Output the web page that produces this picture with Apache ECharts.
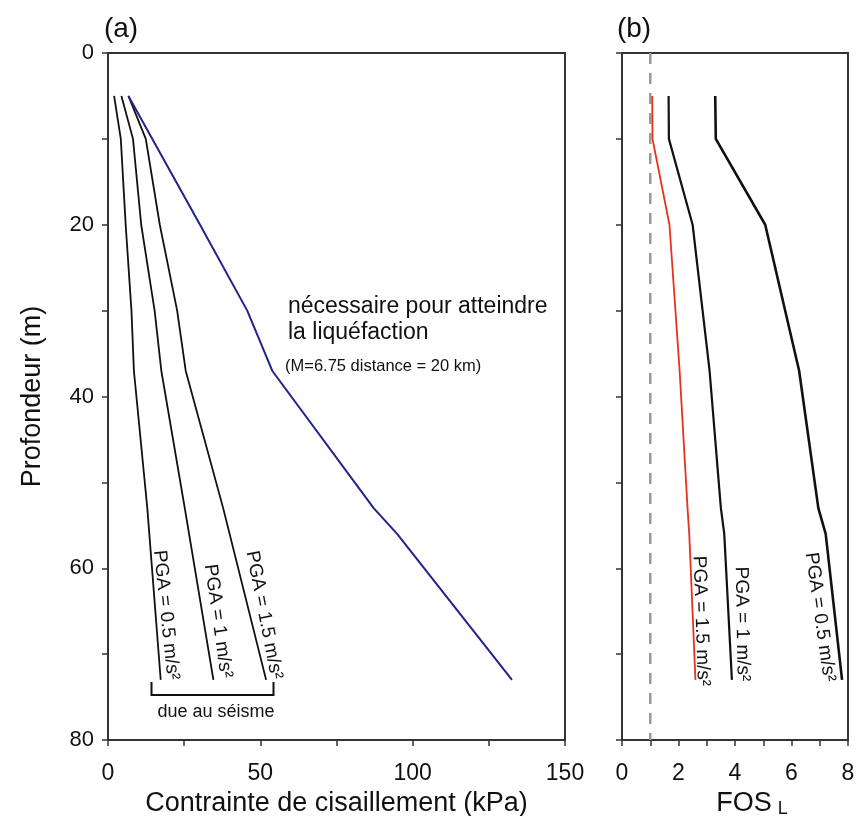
<!DOCTYPE html>
<html>
<head>
<meta charset="utf-8">
<script src="https://cdn.jsdelivr.net/npm/echarts@6/dist/echarts.min.js"></script>
<style>
html,body{margin:0;padding:0;background:#fff;}
#c{width:857px;height:816px;}
</style>
</head>
<body>
<div id="c"></div>
<script>
// ---- data ----
const depthA = [5, 10, 20, 30, 37, 53, 73];
const pga05A = [2.0, 4.2, 5.8, 7.7, 8.5, 12.9, 17.3];
const pga10A = [4.4, 8.2, 10.9, 15.3, 17.5, 25.2, 34.6];
const pga15A = [6.7, 12.4, 17.0, 22.7, 25.5, 37.8, 51.9];
const depthLiq = [5, 20, 30, 37, 53, 56, 73];
const liqA = [6.7, 30.2, 45.7, 53.9, 87.2, 94.9, 132.6];
const depthB = [5, 10, 20, 37, 53, 56, 73];
const fos15 = [1.07, 1.08, 1.68, 2.04, 2.32, 2.38, 2.6];
const fos10 = [1.65, 1.66, 2.5, 3.1, 3.5, 3.62, 3.89];
const fos05 = [3.3, 3.32, 5.07, 6.27, 6.95, 7.21, 7.79];
const fosLimit = [1, 1];
const fosLimitDepth = [0, 80];
const xTicksA = [0, 50, 100, 150];
const xTicksB = [0, 2, 4, 6, 8];
const yTicks = [0, 20, 40, 60, 80];

const FONT = 'Liberation Sans, Arial, sans-serif';
const pair = (xs, ys) => xs.map((v, i) => [v, ys[i]]);

const chart = echarts.init(document.getElementById('c'), null, {renderer: 'canvas'});

const axisCommon = {
  axisLine: {show: true, onZero: false, lineStyle: {color: '#333', width: 2}},
  axisTick: {show: true, inside: false, length: 6, lineStyle: {color: '#333', width: 1.5}},
  splitLine: {show: false}
};

function xAxisDef(idx, min, max, interval, ticks, name, extra) {
  return Object.assign({
    type: 'value', gridIndex: idx, min: min, max: max, interval: interval,
    position: 'bottom',
    axisLabel: {
      margin: 22, fontSize: 23, fontFamily: FONT, color: '#111',
      formatter: v => ticks.indexOf(v) >= 0 ? String(v) : ''
    },
    name: name, nameLocation: 'middle', nameGap: 45,
    nameTextStyle: {fontSize: 27, fontFamily: FONT, color: '#111'}
  }, axisCommon, extra || {});
}

const option = {
  animation: false,
  backgroundColor: '#fff',
  grid: [
    {left: 108, top: 53, width: 457, height: 687, containLabel: false, outerBoundsMode: 'none',
      show: true, borderColor: '#333', borderWidth: 2, backgroundColor: 'transparent'},
    {left: 622, top: 53, width: 226, height: 687, containLabel: false, outerBoundsMode: 'none',
      show: true, borderColor: '#333', borderWidth: 2, backgroundColor: 'transparent'}
  ],
  xAxis: [
    xAxisDef(0, 0, 150, 25, xTicksA, 'Contrainte de cisaillement (kPa)'),
    xAxisDef(1, 0, 8, 1, xTicksB, '{a|FOS}{b|L}', {
      nameGap: 41,
      nameTextStyle: {
        fontFamily: FONT, color: '#111', padding: [0, 0, 0, 34],
        rich: {
          a: {fontSize: 27, fontFamily: FONT, color: '#111'},
          b: {fontSize: 18, fontFamily: FONT, color: '#111', padding: [12, 0, 0, 6]}
        }
      }
    })
  ],
  yAxis: [
    Object.assign({
      type: 'value', gridIndex: 0, min: 0, max: 80, interval: 10, inverse: true,
      axisLabel: {margin: 14, fontSize: 22, fontFamily: FONT, color: '#111',
        formatter: v => yTicks.indexOf(v) >= 0 ? String(v) : ''},
      name: 'Profondeur (m)', nameLocation: 'middle', nameGap: 62,
      nameTextStyle: {fontSize: 27, fontFamily: FONT, color: '#111'}
    }, axisCommon),
    Object.assign({
      type: 'value', gridIndex: 1, min: 0, max: 80, interval: 10, inverse: true,
      axisLabel: {show: false}
    }, axisCommon)
  ],
  series: [
    {type: 'line', xAxisIndex: 0, yAxisIndex: 0, data: pair(pga05A, depthA), showSymbol: false,
      lineStyle: {color: '#111', width: 1.8}},
    {type: 'line', xAxisIndex: 0, yAxisIndex: 0, data: pair(pga10A, depthA), showSymbol: false,
      lineStyle: {color: '#111', width: 1.8}},
    {type: 'line', xAxisIndex: 0, yAxisIndex: 0, data: pair(pga15A, depthA), showSymbol: false,
      lineStyle: {color: '#111', width: 1.8}},
    {type: 'line', xAxisIndex: 0, yAxisIndex: 0, data: pair(liqA, depthLiq), showSymbol: false,
      lineStyle: {color: '#22228c', width: 2}},
    {type: 'line', xAxisIndex: 1, yAxisIndex: 1, data: pair(fosLimit, fosLimitDepth), showSymbol: false,
      lineStyle: {color: '#999', width: 2.5, type: [11, 9]}},
    {type: 'line', xAxisIndex: 1, yAxisIndex: 1, data: pair(fos15, depthB), showSymbol: false,
      lineStyle: {color: '#e8301e', width: 1.8}},
    {type: 'line', xAxisIndex: 1, yAxisIndex: 1, data: pair(fos10, depthB), showSymbol: false,
      lineStyle: {color: '#111', width: 2.2}},
    {type: 'line', xAxisIndex: 1, yAxisIndex: 1, data: pair(fos05, depthB), showSymbol: false,
      lineStyle: {color: '#111', width: 2.6}}
  ],
  graphic: []
};

const deg = Math.PI / 180;
function txt(x, y, s, size, rot, extra) {
  return {
    type: 'text', x: x, y: y, rotation: rot ? rot * deg : 0, silent: true,
    style: Object.assign({text: s, fontSize: size, fontFamily: FONT, fill: '#111',
      align: 'center', verticalAlign: 'middle'}, extra || {})
  };
}

option.graphic = [
  txt(121, 29, '(a)', 28),
  txt(634, 29, '(b)', 28),
  txt(288, 307, 'nécessaire pour atteindre', 23, 0, {align: 'left'}),
  txt(288, 333, 'la liquéfaction', 23, 0, {align: 'left'}),
  txt(285, 366, '(M=6.75 distance = 20 km)', 16.5, 0, {align: 'left'}),
  // PGA labels panel (a)
  txt(166, 615, 'PGA = 0.5 m/s²', 19, -84),
  txt(218, 621, 'PGA = 1 m/s²', 19, -82),
  txt(264, 615, 'PGA = 1.5 m/s²', 19, -79),
  // PGA labels panel (b)
  txt(701, 621, 'PGA = 1.5 m/s²', 19, -88),
  txt(742, 624, 'PGA = 1 m/s²', 19, -89),
  txt(820, 617, 'PGA = 0.5 m/s²', 19, -82),
  // bracket
  {type: 'polyline', silent: true,
    shape: {points: [[151.5, 682], [151.5, 695], [273.5, 695], [273.5, 682]]},
    style: {stroke: '#111', lineWidth: 2, fill: null}},
  txt(216, 712, 'due au séisme', 18)
];

chart.setOption(option);
</script>
</body>
</html>
